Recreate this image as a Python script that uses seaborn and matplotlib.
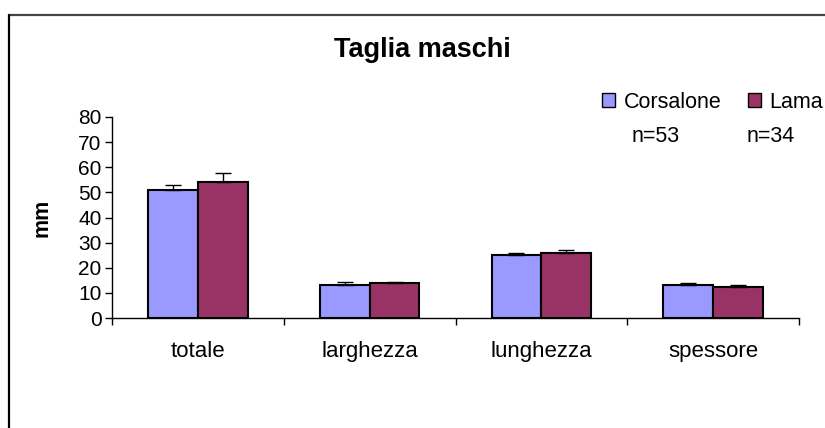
import numpy as np
import pandas as pd
import matplotlib
matplotlib.use("Agg")
import matplotlib.pyplot as plt
from matplotlib.lines import Line2D
import seaborn as sns

# data
misure = ["totale", "larghezza", "lunghezza", "spessore"]
siti = ["Corsalone", "Lama"]
corsalone_mm = [51.0, 13.0, 25.2, 13.0]
lama_mm = [54.2, 13.8, 25.9, 12.2]
corsalone_err = [2.0, 1.3, 0.8, 0.9]
lama_err = [3.5, 0.5, 1.3, 0.9]
n_campioni = ["n=53", "n=34"]
colori = ["#9999FF", "#993366"]

df = pd.DataFrame({
    "misura": misure * 2,
    "sito": [siti[0]] * 4 + [siti[1]] * 4,
    "mm": corsalone_mm + lama_mm,
})

sns.set_theme(style="white")
plt.rcParams["font.family"] = ["Liberation Sans", "DejaVu Sans"]
plt.rcParams["text.color"] = "black"
plt.rcParams["axes.labelcolor"] = "black"
plt.rcParams["xtick.color"] = "black"
plt.rcParams["ytick.color"] = "black"

W, H = 825, 428
fig = plt.figure(figsize=(W / 100, H / 100), dpi=100)
ax = fig.add_axes([112 / W, 1 - 318 / H, (799 - 112) / W, (318 - 117) / H])

sns.barplot(data=df, x="misura", y="mm", hue="sito", palette=colori,
            errorbar=None, width=0.58, edgecolor="black", linewidth=1.5,
            saturation=1, ax=ax)

# upward-only error bars, Excel style
for cont, errs in zip(ax.containers, [corsalone_err, lama_err]):
    for bar, e in zip(cont, errs):
        xc = bar.get_x() + bar.get_width() / 2
        ax.errorbar(xc, bar.get_height(), yerr=[[0], [e]], fmt="none",
                    ecolor="black", elinewidth=1, capsize=5.5, capthick=1)

ax.set_xlim(-0.5, 3.5)
ax.set_ylim(0, 80)
ax.set_yticks(np.arange(0, 81, 10))
ax.set_xticks(range(len(misure)))
ax.set_xticklabels(misure)
ax.set_xticks(np.arange(-0.5, 3.6, 1), minor=True)
ax.tick_params(axis="x", which="major", length=0, pad=16.5, labelsize=16)
ax.tick_params(axis="x", which="minor", length=5, width=1, direction="out",
               color="black", bottom=True)
ax.tick_params(axis="y", length=5, width=1, direction="out", color="black",
               left=True, pad=2.5, labelsize=15)
ax.set_xlabel("")
ax.set_ylabel("mm", fontsize=15.5, fontweight="bold")
ax.yaxis.set_label_coords(-0.086, 0.5)
for s in ["top", "right"]:
    ax.spines[s].set_visible(False)
for s in ["left", "bottom"]:
    ax.spines[s].set_color("black")
    ax.spines[s].set_linewidth(1)

ax.legend_.remove()
handles = [plt.Rectangle((0, 0), 1, 1, facecolor=c, edgecolor="black", linewidth=1)
           for c in colori]
fig.legend(handles, siti, loc="center left", bbox_to_anchor=(602 / W, 1 - 102 / H),
           ncol=2, frameon=False, fontsize=15.5, handlelength=0.62, handleheight=0.62,
           handletextpad=0.4, columnspacing=1.2, borderpad=0, borderaxespad=0)
fig.text(632 / W, 1 - 137 / H, n_campioni[0], fontsize=15.5, va="center", ha="left")
fig.text(747 / W, 1 - 137 / H, n_campioni[1], fontsize=15.5, va="center", ha="left")

fig.text(422 / W, 1 - 57 / H, "Taglia maschi", fontsize=19.5, fontweight="bold",
         ha="center", va="baseline")

# chart frame (top and left edges visible)
fig.add_artist(Line2D([9 / W, 1], [1 - 15 / H, 1 - 15 / H], color="#444444",
                      linewidth=1.6, transform=fig.transFigure))
fig.add_artist(Line2D([9 / W, 9 / W], [0, 1 - 15 / H], color="black",
                      linewidth=1.6, transform=fig.transFigure))

fig.savefig("out.png", dpi=100)
